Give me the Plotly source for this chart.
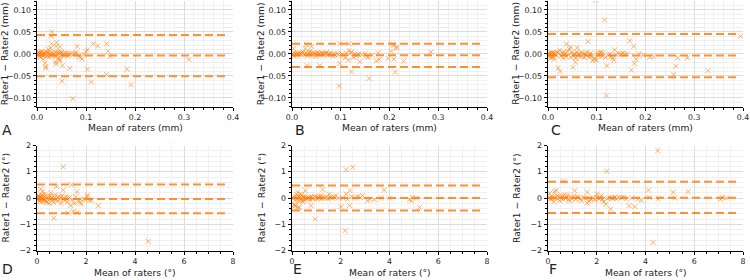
import plotly.graph_objects as go

# ---------------- data ----------------
A_mean = [0.001,0.002,0.003,0.004,0.005,0.006,0.007,0.008,0.009,0.010,0.011,0.012,0.013,0.014,0.015,0.016,0.017,0.018,0.018,0.019,0.020,0.021,0.022,0.023,0.024,0.025,0.026,0.027,0.028,0.030,0.029,0.030,0.031,0.032,0.034,0.036,0.037,0.038,0.039,0.039,0.040,0.041,0.042,0.043,0.044,0.045,0.046,0.047,0.047,0.048,0.049,0.050,0.051,0.052,0.053,0.055,0.057,0.060,0.062,0.064,0.066,0.067,0.070,0.073,0.075,0.078,0.081,0.082,0.085,0.088,0.092,0.096,0.100,0.103,0.103,0.111,0.115,0.124,0.142,0.145,0.149,0.142,0.184,0.192,0.310]
A_diff = [0.001,-0.002,0.003,0.000,-0.004,0.002,-0.008,0.004,-0.001,0.006,-0.003,0.001,-0.012,0.003,-0.002,-0.021,0.000,-0.029,-0.032,0.005,-0.005,0.002,-0.003,0.010,-0.007,0.004,0.000,-0.002,0.013,0.050,0.040,0.023,0.002,-0.004,0.000,0.004,-0.006,-0.018,0.017,-0.023,0.026,0.002,-0.003,0.005,-0.010,0.001,-0.012,0.016,-0.016,0.004,-0.002,0.003,-0.062,-0.027,0.000,-0.005,0.001,0.002,-0.004,0.001,-0.002,-0.033,0.000,-0.102,0.000,0.003,0.002,0.017,-0.005,-0.008,-0.012,-0.002,0.005,0.009,-0.035,-0.064,0.023,0.018,0.023,0.006,-0.006,-0.047,-0.035,-0.070,-0.013]
A_limits = [0.043, -0.004, -0.051]

B_mean = [0.001,0.002,0.003,0.004,0.005,0.007,0.009,0.011,0.013,0.015,0.017,0.019,0.021,0.023,0.025,0.027,0.029,0.030,0.031,0.032,0.034,0.036,0.037,0.038,0.040,0.041,0.043,0.045,0.047,0.049,0.050,0.052,0.054,0.056,0.057,0.059,0.061,0.063,0.065,0.067,0.069,0.071,0.073,0.075,0.078,0.080,0.083,0.086,0.089,0.092,0.095,0.098,0.098,0.097,0.102,0.106,0.109,0.112,0.116,0.117,0.117,0.120,0.122,0.122,0.126,0.129,0.132,0.136,0.139,0.143,0.150,0.153,0.156,0.158,0.165,0.173,0.177,0.179,0.197,0.204,0.206,0.209,0.209,0.212,0.214,0.215,0.229,0.285]
B_diff = [0.000,-0.002,0.012,-0.005,0.002,0.000,-0.003,0.001,-0.001,0.003,0.000,-0.002,0.001,0.004,-0.001,0.012,0.002,0.021,-0.027,-0.004,0.000,0.003,0.006,-0.002,0.017,0.001,-0.003,0.002,0.000,-0.005,0.000,0.003,-0.002,0.001,-0.027,-0.001,0.002,0.000,-0.003,0.001,0.000,0.003,-0.002,0.000,-0.002,0.001,-0.004,0.000,-0.003,0.001,-0.002,0.023,-0.022,-0.073,0.000,-0.003,-0.009,0.001,-0.014,0.023,0.008,0.002,-0.041,0.004,-0.008,0.000,-0.004,-0.001,-0.018,-0.002,0.000,-0.005,-0.008,-0.056,-0.003,-0.016,0.002,-0.013,-0.010,0.006,0.022,0.020,-0.012,-0.041,0.012,0.016,-0.017,0.004]
B_limits = [0.023, -0.003, -0.030]

C_mean = [0.001,0.002,0.003,0.004,0.005,0.006,0.007,0.008,0.009,0.010,0.011,0.012,0.013,0.015,0.017,0.019,0.021,0.022,0.024,0.025,0.027,0.029,0.031,0.033,0.035,0.037,0.038,0.040,0.042,0.044,0.046,0.047,0.049,0.051,0.052,0.054,0.056,0.057,0.059,0.060,0.062,0.064,0.066,0.068,0.070,0.072,0.074,0.076,0.078,0.080,0.082,0.084,0.086,0.088,0.090,0.092,0.094,0.096,0.098,0.099,0.101,0.103,0.105,0.107,0.109,0.111,0.113,0.116,0.118,0.120,0.121,0.124,0.127,0.130,0.133,0.135,0.137,0.140,0.145,0.150,0.154,0.157,0.162,0.168,0.171,0.176,0.177,0.181,0.187,0.195,0.209,0.217,0.258,0.262,0.266,0.286,0.328,0.395]
C_diff = [0.001,-0.003,0.000,-0.006,0.002,-0.010,0.001,-0.004,0.003,-0.008,0.000,0.002,-0.012,0.000,-0.003,0.004,-0.032,0.001,0.008,-0.040,-0.005,0.002,-0.010,0.004,0.000,-0.006,0.022,0.006,-0.002,0.010,0.015,-0.008,0.003,-0.031,-0.004,0.001,-0.019,-0.010,0.004,0.014,-0.002,0.000,-0.006,0.003,-0.004,0.001,-0.009,0.000,-0.003,0.004,0.028,-0.007,-0.001,0.002,-0.005,-0.015,-0.012,-0.010,0.122,-0.014,0.001,-0.004,0.000,0.003,0.004,-0.006,0.002,0.077,-0.008,-0.095,-0.027,-0.003,0.000,-0.006,-0.010,-0.015,0.009,-0.002,0.000,0.000,0.002,-0.002,0.000,0.030,-0.037,0.017,-0.022,-0.012,0.000,-0.003,-0.008,-0.006,-0.047,-0.028,-0.009,-0.009,-0.038,0.040]
C_limits = [0.045, -0.004, -0.053]

D_mean = [0.02,0.04,0.05,0.07,0.08,0.10,0.11,0.12,0.14,0.15,0.16,0.18,0.19,0.21,0.22,0.23,0.25,0.27,0.29,0.31,0.33,0.35,0.37,0.39,0.41,0.44,0.47,0.50,0.53,0.56,0.58,0.61,0.64,0.67,0.69,0.72,0.75,0.78,0.80,0.83,0.86,0.90,0.94,0.98,1.02,1.07,1.07,1.10,1.14,1.18,1.21,1.25,1.28,1.33,1.37,1.41,1.45,1.48,1.52,1.58,1.64,1.64,1.70,1.75,1.82,1.90,1.96,2.05,2.06,2.15,2.23,2.50,4.54]
D_diff = [0.00,0.05,-0.08,0.10,-0.02,0.02,-0.12,0.06,-0.05,0.34,0.00,-0.15,0.08,-0.03,0.12,0.25,-0.10,0.02,-0.06,0.15,-0.08,0.04,-0.12,-0.17,0.01,-0.04,0.06,-0.20,0.09,0.20,-0.02,0.03,-0.08,-0.17,-0.77,0.02,0.12,-0.05,0.43,-0.12,0.04,-0.06,0.05,-0.20,0.08,1.19,0.30,-0.03,-0.10,0.06,-0.01,-0.15,-0.58,0.02,-0.29,0.50,-0.08,-0.51,-0.20,0.05,0.24,-0.55,-0.12,-0.17,-0.23,-0.05,-0.04,0.05,0.11,-0.10,-0.08,-0.29,-1.65]
D_limits = [0.51, -0.04, -0.58]

E_mean = [0.02,0.05,0.08,0.10,0.12,0.14,0.16,0.18,0.20,0.22,0.23,0.25,0.27,0.29,0.30,0.32,0.34,0.36,0.38,0.40,0.42,0.44,0.46,0.48,0.50,0.52,0.55,0.58,0.62,0.66,0.70,0.74,0.78,0.80,0.84,0.88,0.92,0.95,0.98,1.02,1.06,1.10,1.15,1.19,1.22,1.26,1.30,1.36,1.42,1.48,1.53,1.58,1.65,1.72,1.81,1.90,2.01,2.10,2.18,2.22,2.22,2.28,2.36,2.38,2.45,2.49,2.58,2.70,2.80,2.90,3.11,3.18,3.38,3.66,3.78,4.00,4.82,4.89,4.93,5.10,5.23]
E_diff = [0.00,-0.02,0.03,-0.25,-0.30,-0.29,0.05,-0.08,0.12,0.00,0.22,-0.36,0.06,-0.10,-0.36,0.02,0.15,-0.05,0.00,0.10,-0.12,-0.14,0.05,0.00,-0.08,0.03,0.28,0.00,-0.03,0.02,0.00,-0.06,-0.29,0.05,-0.02,0.00,0.06,-0.80,0.02,-0.04,0.03,0.00,0.05,0.09,-0.02,0.32,0.02,0.00,0.04,-0.03,0.15,0.02,0.00,0.05,0.09,0.00,-0.33,0.00,-1.24,1.08,0.15,-0.05,-0.29,0.28,0.05,1.17,0.00,0.06,0.02,0.09,-0.10,-0.04,-0.06,0.00,0.30,0.00,-0.06,-0.10,0.03,0.00,-0.36]
E_limits = [0.48, 0.00, -0.48]

F_mean = [0.05,0.07,0.10,0.13,0.16,0.20,0.23,0.27,0.30,0.34,0.37,0.40,0.44,0.48,0.52,0.57,0.60,0.64,0.68,0.72,0.75,0.80,0.85,0.89,0.93,0.98,1.03,1.09,1.14,1.19,1.23,1.30,1.37,1.45,1.53,1.61,1.61,1.68,1.73,1.78,1.85,1.93,1.98,2.01,2.08,2.14,2.19,2.24,2.28,2.37,2.41,2.45,2.52,2.57,2.63,2.67,2.74,2.80,2.90,3.01,3.10,3.21,3.32,3.45,3.56,3.69,3.83,4.12,4.17,4.31,4.50,4.51,5.13,5.20,5.75,7.07,7.17,7.32]
F_diff = [0.00,0.18,-0.03,0.05,-0.05,0.02,-0.15,0.25,0.00,0.28,0.08,-0.03,0.05,-0.10,0.02,0.09,-0.05,0.64,0.12,-0.02,0.01,0.10,-0.06,-0.11,0.04,-0.02,0.05,0.28,-0.05,0.06,0.01,-0.04,-0.09,0.02,-0.01,0.22,-0.20,-0.11,-0.02,-0.06,0.00,-0.08,0.03,0.15,-0.02,0.00,0.09,-0.06,-0.14,-0.24,1.02,-0.02,0.02,-0.43,0.00,-0.03,0.04,-0.03,0.02,0.01,0.03,-0.03,-0.29,0.00,-0.33,-0.05,-0.09,0.30,0.01,-1.69,1.80,-0.03,0.22,0.00,0.24,-0.05,0.03,0.00]
F_limits = [0.62, 0.01, -0.57]

panel_letters = ["A", "B", "C", "D", "E", "F"]
x_title_mm = "Mean of raters (mm)"
y_title_mm = "Rater1 − Rater2 (mm)"
x_title_deg = "Mean of raters (°)"
y_title_deg = "Rater1 − Rater2 (°)"

panels = [
    (A_mean, A_diff, A_limits, "mm"),
    (B_mean, B_diff, B_limits, "mm"),
    (C_mean, C_diff, C_limits, "mm"),
    (D_mean, D_diff, D_limits, "deg"),
    (E_mean, E_diff, E_limits, "deg"),
    (F_mean, F_diff, F_limits, "deg"),
]

# ---------------- layout geometry (px) ----------------
W, H = 750, 280
col_px = [(37, 233), (292, 487), (548, 743)]
row_px = [(1.1, 106.6), (145.5, 250.5)]
letter_px = [(7, 129.5), (300, 129.5), (556, 129.5), (7, 269), (297, 269), (553, 269)]
ytitle_x_px = [4.5, 260.5, 516]
xtitle_y_px = [127.5, 272.5]

ORANGE = "#ff7f0e"
FONT = "DejaVu Sans"
GRID = "#dcdcdc"
MINOR = "#f0f0f0"
TXT = "#222222"

fig = go.Figure()
layout = dict(
    width=W, height=H, margin=dict(l=0, r=0, t=0, b=0),
    paper_bgcolor="white", plot_bgcolor="white", showlegend=False,
    font=dict(family=FONT, color=TXT),
)
annotations = []

for i, (xm, yd, lims, unit) in enumerate(panels):
    r, c = divmod(i, 3)
    n = "" if i == 0 else str(i + 1)
    xa, ya = "x" + n, "y" + n
    xmax = 0.392 if unit == "mm" else 7.85
    for v in lims:
        fig.add_trace(go.Scatter(
            x=[0, xmax], y=[v, v], mode="lines", xaxis=xa, yaxis=ya,
            line=dict(color=ORANGE, width=2, dash="8px,4px"), opacity=0.85,
            hoverinfo="skip"))
    fig.add_trace(go.Scatter(
        x=xm, y=yd, mode="markers", xaxis=xa, yaxis=ya,
        marker=dict(symbol="x-thin", size=5, color="rgba(0,0,0,0)",
                    line=dict(color="rgba(255,127,14,0.6)", width=1))))

    x0, x1 = col_px[c]
    t0, t1 = row_px[r]
    common = dict(
        showline=True, linecolor="black", linewidth=1, mirror=False,
        ticks="outside", ticklen=3.5, tickwidth=1, tickcolor="black",
        showgrid=True, gridcolor=GRID, gridwidth=1, zeroline=False,
        tickfont=dict(family=FONT, size=7.8, color=TXT),
        automargin=False,
    )
    if unit == "mm":
        xaxis = dict(range=[0, 0.4], dtick=0.1, tickformat=".1f",
                     minor=dict(dtick=0.02, ticks="outside", ticklen=2, tickcolor="black",
                                showgrid=True, gridcolor=MINOR))
        yaxis = dict(range=[-0.12, 0.12], dtick=0.05, tickformat=".2f",
                     minor=dict(dtick=0.01, ticks="outside", ticklen=2, tickcolor="black",
                                showgrid=True, gridcolor=MINOR))
        xt, yt = x_title_mm, y_title_mm
    else:
        xaxis = dict(range=[0, 8], dtick=2, tickformat="d",
                     minor=dict(dtick=0.5, ticks="outside", ticklen=2, tickcolor="black",
                                showgrid=True, gridcolor=MINOR))
        yaxis = dict(range=[-2, 2], dtick=1, tickformat="d",
                     minor=dict(dtick=0.2, ticks="outside", ticklen=2, tickcolor="black",
                                showgrid=True, gridcolor=MINOR))
        xt, yt = x_title_deg, y_title_deg
    xaxis.update(common)
    yaxis.update(common)
    xaxis.update(domain=[x0 / W, x1 / W], anchor=ya)
    yaxis.update(domain=[1 - t1 / H, 1 - t0 / H], anchor=xa)
    layout["xaxis" + n] = xaxis
    layout["yaxis" + n] = yaxis

    # axis titles as paper annotations
    annotations.append(dict(
        text=xt, x=(x0 + x1) / 2 / W, y=1 - xtitle_y_px[r] / H, xref="paper", yref="paper",
        xanchor="center", yanchor="middle", showarrow=False, borderpad=0,
        font=dict(family=FONT, size=9.2, color=TXT)))
    annotations.append(dict(
        text=yt, x=ytitle_x_px[c] / W, y=1 - (t0 + t1) / 2 / H, xref="paper", yref="paper",
        xanchor="center", yanchor="middle", showarrow=False, textangle=-90, borderpad=0,
        font=dict(family=FONT, size=9.2, color=TXT)))

    lx, ly = letter_px[i]
    annotations.append(dict(
        text=panel_letters[i], x=lx / W, y=1 - ly / H, xref="paper", yref="paper",
        xanchor="center", yanchor="middle", showarrow=False, borderpad=0,
        font=dict(family=FONT, size=14, color=TXT)))

layout["annotations"] = annotations
fig.update_layout(**layout)
fig.write_html("out.html")
